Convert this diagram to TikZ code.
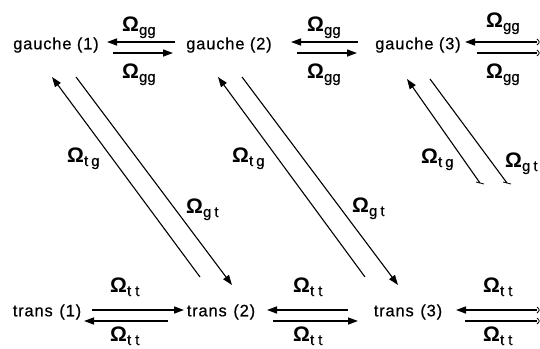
\documentclass[tikz,border=0pt]{standalone}
\usepackage{fontspec}
\setmainfont{Liberation Sans}
\usetikzlibrary{arrows.meta}
\newcommand{\Om}[1]{{\fontsize{21}{21}\selectfont\bfseries Ω}\raisebox{-4pt}{\fontsize{15}{15}\selectfont\addfontfeatures{FakeBold=0.6}#1}}
\begin{document}
\begin{tikzpicture}[x=1pt,y=-1pt,
  state/.style={font=\fontsize{16.5}{16.5}\selectfont\addfontfeatures{LetterSpace=5,FakeBold=0.6}, inner sep=0pt},
  lab/.style={anchor=base west, inner sep=0pt},
  harr/.style={line width=1.5pt, -{Triangle[length=10pt,width=7pt]}},
  hline/.style={line width=1.5pt},
  darr/.style={line width=1.1pt, -{Triangle[length=10pt,width=7pt]}},
  dline/.style={line width=1.1pt},
  brk/.style={line width=0.8pt}]
\clip (0,0) rectangle (540,348);
\fill[white] (0,0) rectangle (540,348);
% states
\node[state] (g1) at (56,45) {gauche (1)};
\node[state] (g2) at (229,45) {gauche (2)};
\node[state] (g3) at (418,45) {gauche (3)};
\node[state] (t1) at (47,312) {trans\hspace{0.4em}(1)};
\node[state] (t2) at (221,312) {trans\hspace{0.4em}(2)};
\node[state] (t3) at (408,312) {trans\hspace{0.4em}(3)};
% coordinates: top row
\coordinate (a1s) at (175,42); \coordinate (a1e) at (107,42);
\coordinate (b1s) at (113,53); \coordinate (b1e) at (173,53);
\coordinate (a2s) at (358,42); \coordinate (a2e) at (291,42);
\coordinate (b2s) at (297,53); \coordinate (b2e) at (357,53);
\coordinate (a3s) at (537,42); \coordinate (a3e) at (465,42);
\coordinate (b3s) at (477,53); \coordinate (b3e) at (537,53);
% bottom row
\coordinate (c1s) at (92,310); \coordinate (c1e) at (184,310);
\coordinate (d1s) at (168,321); \coordinate (d1e) at (84,321);
\coordinate (c2s) at (348,310); \coordinate (c2e) at (267,310);
\coordinate (d2s) at (273,321); \coordinate (d2e) at (358,321);
\coordinate (c3s) at (537,310); \coordinate (c3e) at (456,310);
\coordinate (d3s) at (465,321); \coordinate (d3e) at (537,321);
% diagonals
\coordinate (u1s) at (200,277); \coordinate (u1e) at (52,77);
\coordinate (v1s) at (76,77); \coordinate (v1e) at (232,285);
\coordinate (u2s) at (365,277); \coordinate (u2e) at (218,77);
\coordinate (v2s) at (242,77); \coordinate (v2e) at (398,285);
\coordinate (u3s) at (480,183); \coordinate (u3e) at (407,79);
\coordinate (v3s) at (430,79); \coordinate (v3e) at (507,183);
% horizontal arrows
\draw[harr] (a1s) -- (a1e);
\draw[harr] (b1s) -- (b1e);
\draw[harr] (a2s) -- (a2e);
\draw[harr] (b2s) -- (b2e);
\draw[harr] (a3s) -- (a3e);
\draw[hline] (b3s) -- (b3e);
\draw[harr] (c1s) -- (c1e);
\draw[harr] (d1s) -- (d1e);
\draw[harr] (c2s) -- (c2e);
\draw[harr] (d2s) -- (d2e);
\draw[harr] (c3s) -- (c3e);
\draw[hline] (d3s) -- (d3e);
% break marks
\draw[brk] ([yshift=-3pt]a3s) .. controls ([xshift=3pt]a3s) .. ([yshift=3pt]a3s);
\draw[brk] ([yshift=-3pt]b3e) .. controls ([xshift=3pt]b3e) .. ([yshift=3pt]b3e);
\draw[brk] ([yshift=-3pt]c3s) .. controls ([xshift=3pt]c3s) .. ([yshift=3pt]c3s);
\draw[brk] ([yshift=-3pt]d3e) .. controls ([xshift=3pt]d3e) .. ([yshift=3pt]d3e);
% diagonal arrows
\draw[darr] (u1s) -- (u1e);
\draw[darr] (v1s) -- (v1e);
\draw[darr] (u2s) -- (u2e);
\draw[darr] (v2s) -- (v2e);
\draw[darr] (u3s) -- (u3e);
\draw[dline] (v3s) -- (v3e);
\draw[brk] ([xshift=-4pt,yshift=1pt]u3s) -- ([xshift=4pt,yshift=-1pt]u3s);
\draw[brk] ([xshift=-4pt,yshift=1pt]v3e) -- ([xshift=4pt,yshift=-1pt]v3e);
% labels
\node[lab] (lgg1a) at (122,31) {\Om{gg}};
\node[lab] (lgg1b) at (122,78) {\Om{gg}};
\node[lab] (lgg2a) at (307,31) {\Om{gg}};
\node[lab] (lgg2b) at (307,78) {\Om{gg}};
\node[lab] (lgg3a) at (486,27) {\Om{gg}};
\node[lab] (lgg3b) at (486,78) {\Om{gg}};
\node[lab] (ltt1a) at (110,292) {\Om{t\kern4pt t}};
\node[lab] (ltt1b) at (110,341) {\Om{t\kern4pt t}};
\node[lab] (ltt2a) at (293,292) {\Om{t\kern4pt t}};
\node[lab] (ltt2b) at (293,341) {\Om{t\kern4pt t}};
\node[lab] (ltt3a) at (483,292) {\Om{t\kern4pt t}};
\node[lab] (ltt3b) at (483,341) {\Om{t\kern4pt t}};
\node[lab] (ltg1) at (67,162) {\Om{t\kern3pt g}};
\node[lab] (ltg2) at (232,162) {\Om{t\kern3pt g}};
\node[lab] (ltg3) at (421,163) {\Om{t\kern3pt g}};
\node[lab] (lgt1) at (186,213) {\Om{g\kern3pt t}};
\node[lab] (lgt2) at (352,212) {\Om{g\kern3pt t}};
\node[lab] (lgt3) at (505,167) {\Om{g\kern3pt t}};
\end{tikzpicture}
\end{document}
